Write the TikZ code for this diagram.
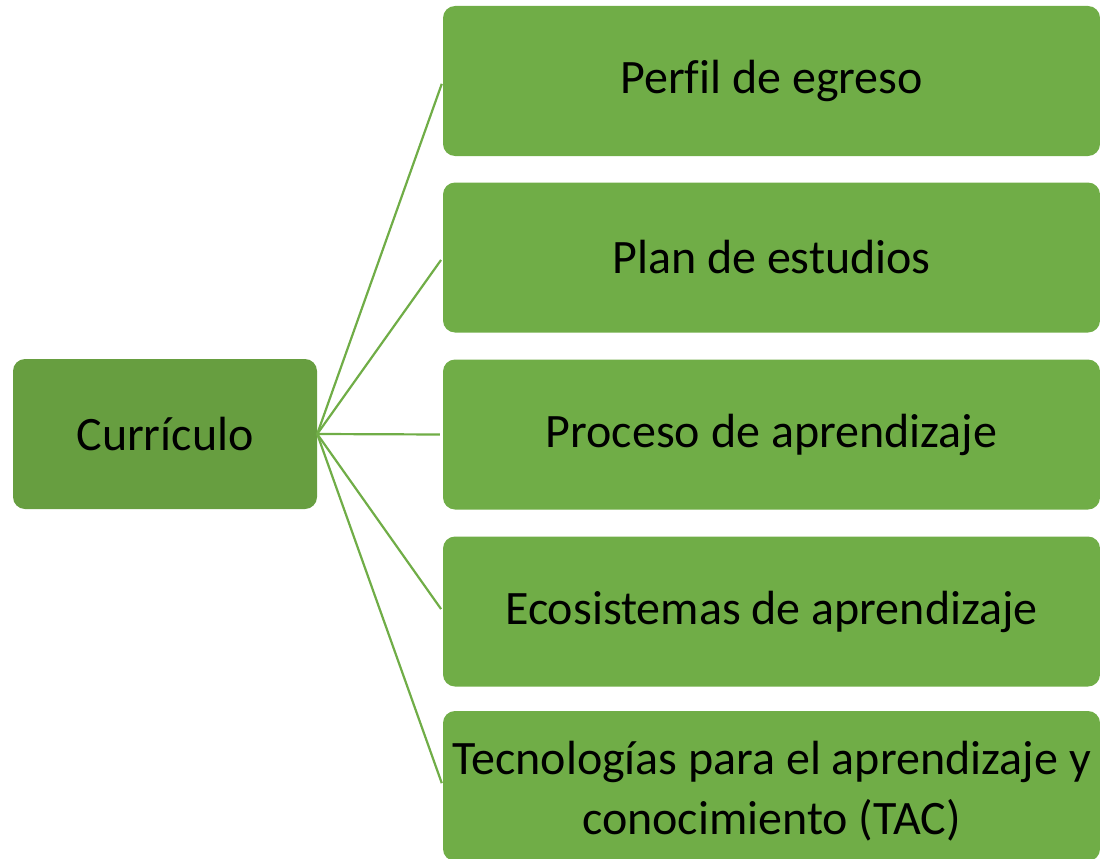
\documentclass[tikz,border=0pt]{standalone}
\usepackage{fontspec}
\setmainfont[Ligatures=NoCommon]{Carlito}
\definecolor{rootgreen}{HTML}{679E40}
\definecolor{boxgreen}{HTML}{70AD47}
\tikzset{
  rootbox/.style={fill=rootgreen, rounded corners=12pt, minimum width=304pt, minimum height=150pt, inner sep=0pt, align=center, font=\fontsize{48}{60}\selectfont},
  itembox/.style={fill=boxgreen, rounded corners=12pt, minimum width=657pt, minimum height=150pt, inner sep=0pt, align=center, font=\fontsize{48}{60}\selectfont},
  link/.style={draw=boxgreen, line width=2.2pt, shorten >=3pt}
}
\begin{document}
\begin{tikzpicture}[x=1pt,y=-1pt]
\useasboundingbox (0,0) rectangle (1100,859);
\node[rootbox] (root) at (165,434) {Currículo};
\node[itembox] (a) at (771.5,81) {Perfil de egreso};
\node[itembox] (b) at (771.5,257.5) {Plan de estudios};
\node[itembox] (c) at (771.5,434.5) {Proceso de aprendizaje};
\node[itembox] (d) at (771.5,611.5) {Ecosistemas de aprendizaje};
\node[itembox] (e) at (771.5,786) {};
\node[align=center, inner sep=0pt, font=\fontsize{48}{60}\selectfont] (etext) at (771.5,791) {Tecnologías para el aprendizaje y\\conocimiento (TAC)};
\foreach \n in {a,b,c,d,e} \draw[link] (root.east) -- (\n.west);
\end{tikzpicture}
\end{document}
